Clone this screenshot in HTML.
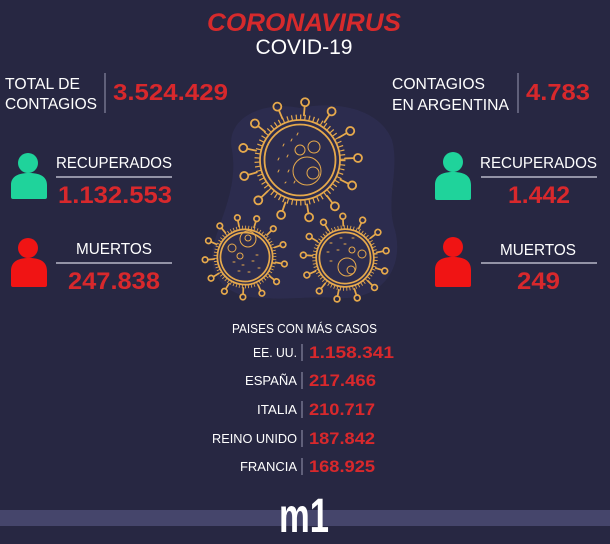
<!DOCTYPE html>
<html>
<head>
<meta charset="utf-8">
<style>
html,body{margin:0;padding:0;background:#272742;}
svg{display:block;}
text{font-family:"Liberation Sans",sans-serif;}
</style>
</head>
<body>
<svg width="610" height="544" viewBox="0 0 610 544" xmlns="http://www.w3.org/2000/svg">
<defs>
  <g id="spk">
    <line x1="0" y1="-45" x2="0" y2="-54"/>
    <circle cx="0" cy="-58" r="4" fill="none"/>
  </g>
  <g id="vir" fill="none">
    <circle r="40"/>
    <circle r="35.5"/>
    <circle r="43" stroke-width="5" stroke-dasharray="1.2 3.2" stroke-linecap="butt"/>
    <use href="#spk" transform="rotate(5)"/>
    <use href="#spk" transform="rotate(33)"/>
    <use href="#spk" transform="rotate(60)"/>
    <use href="#spk" transform="rotate(88)"/>
    <use href="#spk" transform="rotate(116)"/>
    <use href="#spk" transform="rotate(143)"/>
    <use href="#spk" transform="rotate(171)"/>
    <use href="#spk" transform="rotate(199)"/>
    <use href="#spk" transform="rotate(226)"/>
    <use href="#spk" transform="rotate(254)"/>
    <use href="#spk" transform="rotate(282)"/>
    <use href="#spk" transform="rotate(309)"/>
    <use href="#spk" transform="rotate(337)"/>
  </g>
</defs>

<rect x="0" y="0" width="610" height="544" fill="#272742"/>

<!-- background blob -->
<path d="M232,150 C225,120 260,100 300,108 C340,100 380,110 392,140 C400,170 385,200 395,230 C405,270 380,300 340,298 C310,296 290,300 260,298 C220,296 205,270 215,240 C222,215 238,185 232,150 Z" fill="#303056" opacity="0.6"/>

<!-- viruses -->
<g stroke="#e6a94c" fill="none" stroke-linecap="round">
  <use href="#vir" transform="translate(300,160)" stroke-width="1.8"/>
  <circle cx="300" cy="150" r="5"/>
  <circle cx="314" cy="147" r="6"/>
  <circle cx="307" cy="171" r="14"/>
  <circle cx="313" cy="173" r="6"/>
  <path d="M283,146 l1,-2 M291,141 l1,-2 M278,160 l1,-2 M287,157 l1,-2 M278,172 l1,-2 M288,172 l1,-2 M297,135 l1,-2 M294,183 l1,-2 M285,183 l1,-1"/>

  <use href="#vir" transform="translate(245,257) scale(0.69) rotate(12)" stroke-width="2.5"/>
  <circle cx="248" cy="239" r="8"/>
  <circle cx="248" cy="238" r="3"/>
  <circle cx="232" cy="248" r="4"/>
  <circle cx="240" cy="256" r="3"/>
  <path d="M233,262 l2,0 M242,265 l2,0 M252,261 l2,0 M258,268 l2,0 M238,271 l2,0 M248,272 l2,0 M256,255 l2,0"/>

  <use href="#vir" transform="translate(345,258) scale(0.72) rotate(-8)" stroke-width="2.4"/>
  <circle cx="352" cy="250" r="3"/>
  <circle cx="362" cy="254" r="4"/>
  <circle cx="347" cy="267" r="9"/>
  <circle cx="351" cy="270" r="4"/>
  <path d="M330,243 l2,0 M340,238 l2,0 M327,252 l2,0 M337,250 l2,0 M330,261 l2,0 M344,244 l2,0 M352,238 l2,0"/>
</g>

<!-- title -->
<text x="304" y="31" text-anchor="middle" font-size="25" font-weight="bold" font-style="italic" fill="#d62a2c" textLength="194" lengthAdjust="spacingAndGlyphs">CORONAVIRUS</text>
<text x="304" y="54" text-anchor="middle" font-size="21" fill="#ffffff" textLength="97" lengthAdjust="spacingAndGlyphs">COVID-19</text>

<!-- total contagios -->
<text x="5" y="89" font-size="16" fill="#ffffff" textLength="75" lengthAdjust="spacingAndGlyphs">TOTAL DE</text>
<text x="5" y="109" font-size="16" fill="#ffffff" textLength="92" lengthAdjust="spacingAndGlyphs">CONTAGIOS</text>
<line x1="105" y1="73" x2="105" y2="113" stroke="#9a9ab2" stroke-width="1"/>
<text x="113" y="100" font-size="23" font-weight="bold" fill="#d8282c" textLength="115" lengthAdjust="spacingAndGlyphs">3.524.429</text>

<!-- argentina -->
<text x="392" y="89" font-size="16" fill="#ffffff" textLength="93" lengthAdjust="spacingAndGlyphs">CONTAGIOS</text>
<text x="392" y="110" font-size="16" fill="#ffffff" textLength="117" lengthAdjust="spacingAndGlyphs">EN ARGENTINA</text>
<line x1="518" y1="73" x2="518" y2="113" stroke="#9a9ab2" stroke-width="1"/>
<text x="526" y="100" font-size="23" font-weight="bold" fill="#d8282c" textLength="64" lengthAdjust="spacingAndGlyphs">4.783</text>

<!-- icons -->
<circle cx="28" cy="163" r="10" fill="#1fd39b"/>
<path d="M11,199 L11,185 C11,176 19,173 29,173 C39,173 47,176 47,185 L47,197 Q47,199 45,199 L13,199 Q11,199 11,197 Z" fill="#1fd39b"/>
<circle cx="28" cy="248" r="10" fill="#f01414"/>
<path d="M11,287 L11,271 C11,261 19,258 29,258 C39,258 47,261 47,271 L47,285 Q47,287 45,287 L13,287 Q11,287 11,285 Z" fill="#f01414"/>
<circle cx="453" cy="162" r="10" fill="#1fd39b"/>
<path d="M435,200 L435,185 C435,175 443,172 453,172 C463,172 471,175 471,185 L471,198 Q471,200 469,200 L437,200 Q435,200 435,198 Z" fill="#1fd39b"/>
<circle cx="453" cy="247" r="10" fill="#f01414"/>
<path d="M435,287 L435,270 C435,260 443,257 453,257 C463,257 471,260 471,270 L471,285 Q471,287 469,287 L437,287 Q435,287 435,285 Z" fill="#f01414"/>

<!-- left stats -->
<text x="56" y="168" font-size="16" fill="#ffffff" textLength="116" lengthAdjust="spacingAndGlyphs">RECUPERADOS</text>
<line x1="56" y1="177" x2="172" y2="177" stroke="#d4d4e2" stroke-width="1.3"/>
<text x="58" y="203" font-size="24" font-weight="bold" fill="#d8282c" textLength="114" lengthAdjust="spacingAndGlyphs">1.132.553</text>
<text x="76" y="254" font-size="16" fill="#ffffff" textLength="76" lengthAdjust="spacingAndGlyphs">MUERTOS</text>
<line x1="56" y1="263" x2="172" y2="263" stroke="#d4d4e2" stroke-width="1.3"/>
<text x="68" y="289" font-size="24" font-weight="bold" fill="#d8282c" textLength="92" lengthAdjust="spacingAndGlyphs">247.838</text>

<!-- right stats -->
<text x="480" y="168" font-size="16" fill="#ffffff" textLength="117" lengthAdjust="spacingAndGlyphs">RECUPERADOS</text>
<line x1="481" y1="177" x2="597" y2="177" stroke="#d4d4e2" stroke-width="1.3"/>
<text x="508" y="203" font-size="24" font-weight="bold" fill="#d8282c" textLength="62" lengthAdjust="spacingAndGlyphs">1.442</text>
<text x="500" y="255" font-size="16" fill="#ffffff" textLength="76" lengthAdjust="spacingAndGlyphs">MUERTOS</text>
<line x1="481" y1="263" x2="597" y2="263" stroke="#d4d4e2" stroke-width="1.3"/>
<text x="517" y="289" font-size="24" font-weight="bold" fill="#d8282c" textLength="43" lengthAdjust="spacingAndGlyphs">249</text>

<!-- countries -->
<text x="232" y="333" font-size="12.5" fill="#ffffff" textLength="145" lengthAdjust="spacingAndGlyphs">PAISES CON MÁS CASOS</text>

<g font-size="13" fill="#ffffff" text-anchor="end">
  <text x="297" y="357" textLength="44" lengthAdjust="spacingAndGlyphs">EE. UU.</text>
  <text x="297" y="385" textLength="52" lengthAdjust="spacingAndGlyphs">ESPAÑA</text>
  <text x="297" y="414" textLength="40" lengthAdjust="spacingAndGlyphs">ITALIA</text>
  <text x="297" y="443" textLength="85" lengthAdjust="spacingAndGlyphs">REINO UNIDO</text>
  <text x="297" y="471" textLength="57" lengthAdjust="spacingAndGlyphs">FRANCIA</text>
</g>
<g stroke="#9a9ab2" stroke-width="1">
  <line x1="302" y1="344" x2="302" y2="361"/>
  <line x1="302" y1="372" x2="302" y2="389"/>
  <line x1="302" y1="401" x2="302" y2="418"/>
  <line x1="302" y1="430" x2="302" y2="447"/>
  <line x1="302" y1="458" x2="302" y2="475"/>
</g>
<g font-size="17" font-weight="bold" fill="#d8282c">
  <text x="309" y="358" textLength="85" lengthAdjust="spacingAndGlyphs">1.158.341</text>
  <text x="309" y="386" textLength="67" lengthAdjust="spacingAndGlyphs">217.466</text>
  <text x="309" y="415" textLength="66" lengthAdjust="spacingAndGlyphs">210.717</text>
  <text x="309" y="444" textLength="66" lengthAdjust="spacingAndGlyphs">187.842</text>
  <text x="309" y="472" textLength="66" lengthAdjust="spacingAndGlyphs">168.925</text>
</g>

<!-- footer -->
<rect x="0" y="510" width="610" height="16" fill="#45456b"/>
<text x="279" y="532" font-size="48" font-weight="bold" fill="#ffffff" textLength="50" lengthAdjust="spacingAndGlyphs">m1</text>
</svg>
</body>
</html>
